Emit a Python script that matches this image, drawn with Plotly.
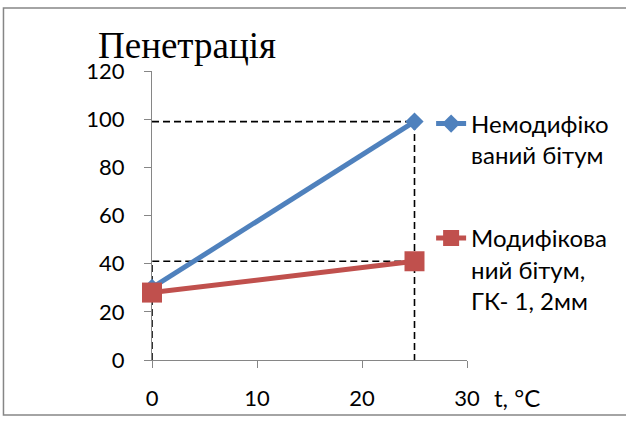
import plotly.graph_objects as go

# Data
t_values = [0, 25]
unmodified = [30, 99]
modified = [28, 41]
series_names = ["Немодифіко<br>ваний бітум", "Модифікова<br>ний бітум,<br>ГК- 1, 2мм"]
x_ticks = [0, 10, 20, 30]
y_ticks = [0, 20, 40, 60, 80, 100, 120]
title_text = "Пенетрація"
x_title = "t, °C"

BLUE = "#4F81BD"
RED = "#C0504D"
GRAY = "#868686"
FONT = "Lato, 'Open Sans', sans-serif"

fig = go.Figure()

dash_style = dict(color="black", width=1.6, dash="7px,4px")
# guide lines (dashed) built from the data values
x0, x1 = t_values
fig.add_trace(go.Scatter(x=[x0, x1, x1], y=[unmodified[1], unmodified[1], 0], mode="lines",
                         line=dash_style, showlegend=False, hoverinfo="skip", cliponaxis=False))
fig.add_trace(go.Scatter(x=[x0, x0, x1], y=[0, modified[1], modified[1]], mode="lines",
                         line=dash_style, showlegend=False, hoverinfo="skip", cliponaxis=False))

fig.add_trace(go.Scatter(x=t_values, y=unmodified, mode="lines+markers", name=series_names[0],
                         line=dict(color=BLUE, width=5),
                         marker=dict(symbol="diamond", size=14, color=BLUE),
                         cliponaxis=False, legendgroup="a"))
fig.add_trace(go.Scatter(x=t_values, y=modified, mode="lines+markers", name=series_names[1],
                         line=dict(color=RED, width=5),
                         marker=dict(symbol="square", size=20, color=RED),
                         cliponaxis=False, legendgroup="b"))

W, H = 626, 423
L, R, T, B = 152, 158, 71, 58
pw, ph = W - L - R, H - T - B

def px(xp):
    return (xp - L) / pw

def py(yp):
    return (H - B - yp) / ph

fig.update_layout(
    width=W, height=H,
    margin=dict(l=L, r=R, t=T, b=B, pad=0),
    paper_bgcolor="white", plot_bgcolor="white",
    font=dict(family=FONT, color="black", size=22),
    showlegend=True,
    legend=dict(x=px(432), xanchor="left", y=py(102), yanchor="top",
                valign="top", tracegroupgap=49, bgcolor="rgba(0,0,0,0)",
                font=dict(family=FONT, size=24, color="black"), itemsizing="trace"),
    xaxis=dict(range=[0, 30], tickvals=x_ticks, showgrid=False, zeroline=False,
               showline=True, linecolor=GRAY, linewidth=1, ticks="outside",
               ticklen=7, tickcolor=GRAY, tickfont=dict(size=22, family=FONT),
               layer="below traces", ticklabelstandoff=12),
    yaxis=dict(range=[0, 120], tickvals=y_ticks, showgrid=False, zeroline=False,
               showline=True, linecolor=GRAY, linewidth=1, ticks="outside",
               ticklen=7, tickcolor=GRAY, tickfont=dict(size=22, family=FONT),
               layer="below traces", ticklabelstandoff=15),
    shapes=[dict(type="rect", xref="paper", yref="paper",
                 x0=px(3), x1=px(640), y0=py(421), y1=py(7),
                 line=dict(color=GRAY, width=1.5), layer="below")],
    annotations=[
        dict(text=title_text, xref="paper", yref="paper", x=px(187), y=py(45),
             xanchor="center", yanchor="middle", showarrow=False,
             font=dict(family="'Liberation Serif', 'Times New Roman', serif", size=37, color="black")),
        dict(text=x_title, xref="paper", yref="paper", x=px(493), y=py(403.5),
             xanchor="left", yanchor="middle", showarrow=False,
             font=dict(family=FONT, size=24, color="black")),
    ],
)

fig.write_html("out.html", config={"displayModeBar": False},
               post_script="document.body.style.margin='0';")
